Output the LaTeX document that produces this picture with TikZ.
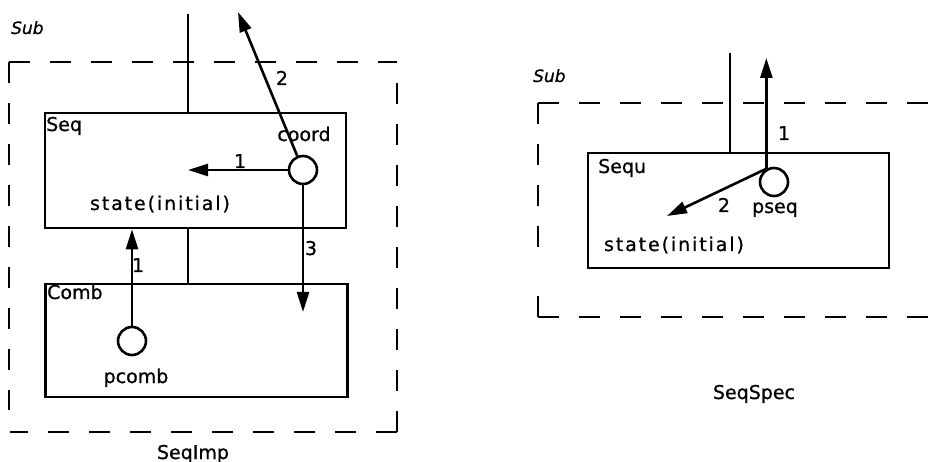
\documentclass[tikz,border=0pt]{standalone}
\usepackage{fontspec}
\setmainfont{DejaVu Sans}[FakeBold=0.8]
\newfontfamily\widefont{DejaVu Sans}[LetterSpace=10,FakeBold=0.8]
\usetikzlibrary{arrows.meta}
\tikzset{
  ln/.style={line width=2.6pt},
  dbox/.style={line width=2.6pt, dash pattern=on 21pt off 20pt},
  box/.style={draw, line width=2.6pt, rectangle, inner sep=0pt},
  circ/.style={draw, line width=2.6pt, circle, minimum size=28pt, inner sep=0pt},
  arr/.style={line width=2.6pt, -{Triangle[length=20pt,width=12pt]}},
  lbl/.style={inner sep=0pt, anchor=base, font=\fontsize{19pt}{22pt}\selectfont},
  lblw/.style={lbl, anchor=base west},
  widelbl/.style={inner sep=0pt, anchor=base, font=\fontsize{19pt}{22pt}\widefont},
  sublbl/.style={inner sep=0pt, anchor=base west, font=\fontsize{17pt}{20pt}\selectfont\itshape},
}
\begin{document}
\begin{tikzpicture}[x=1pt,y=-1pt]
\useasboundingbox (0,0) rectangle (937,462);

% ---------------- left figure: SeqImp ----------------
\node[sublbl] (subL) at (11,34) {Sub};
\coordinate (dTL) at (9,62);
\coordinate (dBR) at (397,432);
\coordinate (dBL) at (10,432);
\coordinate (dTR) at (397,62);
\draw[dbox] (dTL) -- (dTR);
\draw[dbox] (dTL) -- (9,410);
\draw[dbox] (dBR) -- (dBL);
\draw[dbox] (dBR) -- (397,80);

\node[box, minimum width=301pt, minimum height=115pt] (seq) at (195.5,170.5) {};
\node[box, minimum width=302pt, minimum height=113pt] (comb) at (196.5,340.5) {};

\node[lblw] (seqlbl) at (46,131) {Seq};
\node[lblw] (comblbl) at (47,299) {Comb};

\node[circ] (coord) at (303,170) {};
\node[circ] (pcomb) at (132,341) {};

\node[lbl] (coordlbl) at (304,141) {coord};
\node[widelbl] (statelbl) at (160,210) {state(initial)};
\node[lbl] (pcomblbl) at (136,383) {pcomb};
\node[lbl] (seqimp) at (193,459) {SeqImp};

\coordinate (topL) at (188,14);
\draw[ln] (topL) -- (topL |- seq.north);
\draw[ln] (seq.south -| topL) -- (comb.north -| topL);

\coordinate (a1) at (188,170);
\coordinate (a2) at (238,12);
\coordinate (a3) at (303,312);
\draw[arr] (coord) -- (a1);
\draw[arr] (coord) -- (a2);
\draw[arr] (coord) -- (a3);
\draw[arr] (pcomb) -- (pcomb |- seq.south);

\node[lbl] (n1a) at (240,168) {1};
\node[lbl] (n2a) at (282,85) {2};
\node[lbl] (n3a) at (311,255) {3};
\node[lbl] (n1b) at (138,272) {1};

% ---------------- right figure: SeqSpec ----------------
\node[sublbl] (subR) at (533,82) {Sub};
\coordinate (eTL) at (538,103);
\coordinate (eBL) at (538,317);
\draw[dbox] (eTL) -- (937,103);
\draw[dbox] (eTL) -- (538,250);
\draw[dbox] (eBL) -- (937,317);
\draw[dbox] (eBL) -- (538,290);

\node[box, minimum width=301pt, minimum height=115pt] (sequ) at (738.5,210.5) {};
\node[lblw] (sequlbl) at (598,173) {Sequ};

\node[circ] (pseq) at (774,182) {};
\node[lbl] (pseqlbl) at (775,213) {pseq};
\node[widelbl] (state2) at (674,251) {state(initial)};
\node[lbl] (seqspec) at (754,399) {SeqSpec};

\coordinate (topR) at (730,53);
\draw[ln] (topR) -- (topR |- sequ.north);

\coordinate (b1) at (767,58);
\coordinate (b2) at (667,216);
\draw[arr] (pseq.120) -- (pseq.120 |- b1);
\draw[arr] (pseq.120) -- (b2);

\node[lbl] (n1c) at (784,140) {1};
\node[lbl] (n2c) at (724,212) {2};
\end{tikzpicture}
\end{document}
